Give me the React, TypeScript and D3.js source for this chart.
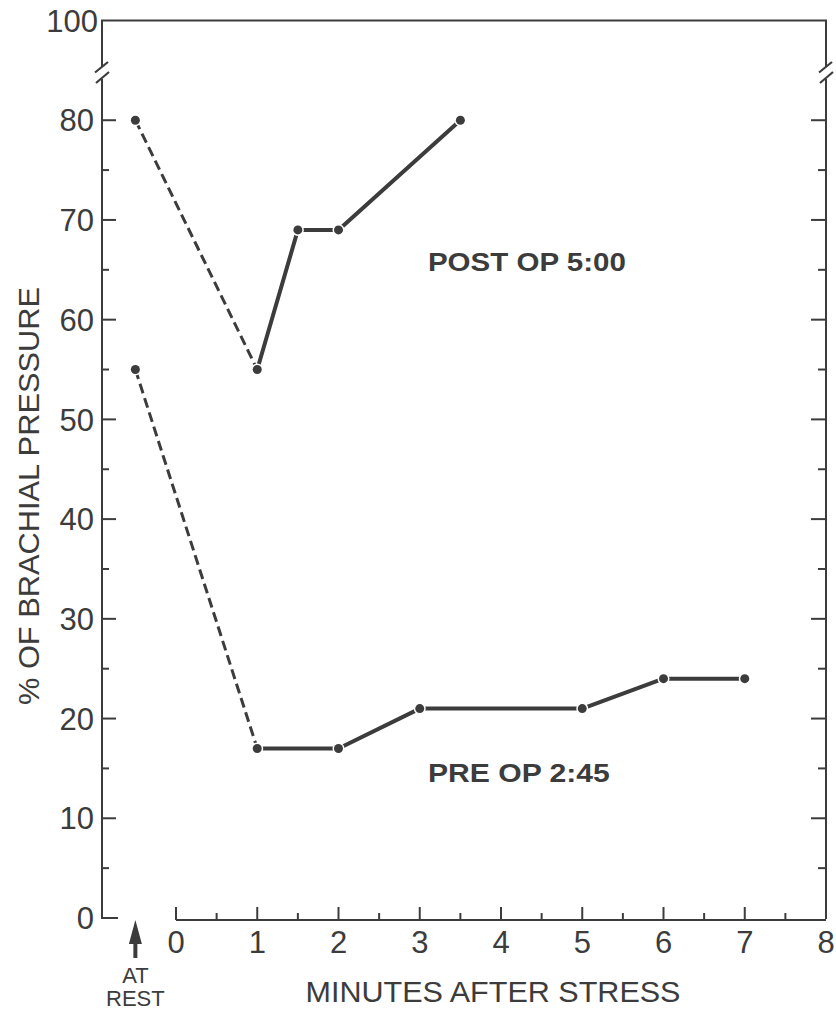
import React from 'react';
import * as d3 from 'd3';

// ---- data ----
const REST = -0.5; // "AT REST" position on the minutes scale
const xTicks = [0, 1, 2, 3, 4, 5, 6, 7, 8];
const xMinorTicks = [0.5, 1.5, 2.5, 3.5, 4.5, 5.5, 6.5, 7.5];
const yTicks = [0, 10, 20, 30, 40, 50, 60, 70, 80];
const yMinorTicks = [5, 15, 25, 35, 45, 55, 65, 75];
const topTickValue = 90;
const topTickLabel = '100';
const restLabel = ['AT', 'REST'];

const postOpX = [REST, 1, 1.5, 2, 3.5];
const postOpY = [80, 55, 69, 69, 80];
const preOpX = [REST, 1, 2, 3, 5, 6, 7];
const preOpY = [55, 17, 17, 21, 21, 24, 24];

const series = [
  { name: 'POST OP 5:00', xs: postOpX, ys: postOpY, labelX: 3.1, labelY: 64.9 },
  { name: 'PRE OP 2:45', xs: preOpX, ys: preOpY, labelX: 3.1, labelY: 13.6 },
];

const INK = '#3c3c3c';
const FONT = '"Liberation Sans", Arial, Helvetica, sans-serif';

export default function App() {
  const W = 836, H = 1012;
  const x = d3.scaleLinear().domain([0, 8]).range([176, 826]);
  const y = d3.scaleLinear().domain([0, 90]).range([918, 20.5]);
  const axL = 102;
  const axR = x(8);
  const axB = y(0);
  const breakY = 73;

  const line = d3.line<[number, number]>().x(d => x(d[0])).y(d => y(d[1]));

  const breakMarks = (cx: number) => (
    <g>
      <line x1={cx} x2={cx} y1={breakY - 6} y2={breakY + 6} stroke="#fff" strokeWidth={6} />
      <line x1={cx - 7} y1={breakY - 0.5} x2={cx + 6} y2={breakY - 11} stroke={INK} strokeWidth={2.2} />
      <line x1={cx - 6} y1={breakY + 10} x2={cx + 7} y2={breakY - 1} stroke={INK} strokeWidth={2.2} />
    </g>
  );

  return (
    <svg width={W} height={H} style={{ position: 'absolute', left: 0, top: 0, background: '#fff' }}
      fontFamily={FONT}>
      <rect width={W} height={H} fill="#fff" />
      {/* frame */}
      <line x1={axL} x2={axL} y1={y(topTickValue)} y2={axB} stroke={INK} strokeWidth={2} />
      <line x1={axL - 1} x2={axR + 1} y1={y(topTickValue)} y2={y(topTickValue)} stroke={INK} strokeWidth={2} />
      <line x1={axR} x2={axR} y1={y(topTickValue)} y2={axB + 1} stroke={INK} strokeWidth={2} />
      {/* left foot */}
      <line x1={axL - 1} x2={118} y1={axB} y2={axB} stroke={INK} strokeWidth={2} />
      {/* x axis */}
      <line x1={x(0)} x2={axR} y1={axB + 2} y2={axB + 2} stroke={INK} strokeWidth={2} />
      {breakMarks(axL)}
      {breakMarks(axR)}

      {/* y ticks */}
      {yTicks.filter(t => t > 0).map(t => (
        <g key={'yt' + t}>
          <line x1={axL} x2={axL + 14} y1={y(t)} y2={y(t)} stroke={INK} strokeWidth={2} />
          <line x1={axR} x2={axR - 15} y1={y(t)} y2={y(t)} stroke={INK} strokeWidth={2} />
        </g>
      ))}
      {yMinorTicks.map(t => (
        <g key={'ym' + t}>
          <line x1={axL} x2={axL + 7} y1={y(t)} y2={y(t)} stroke={INK} strokeWidth={2} />
          <line x1={axR} x2={axR - 8} y1={y(t)} y2={y(t)} stroke={INK} strokeWidth={2} />
        </g>
      ))}
      {yTicks.map(t => (
        <text key={'yl' + t} x={94} y={y(t)} dy="0.36em" textAnchor="end" fontSize={31} fill={INK}>{t}</text>
      ))}
      <text x={98} y={y(topTickValue)} dy="0.36em" textAnchor="end" fontSize={31} fill={INK}>{topTickLabel}</text>

      {/* x ticks */}
      {xTicks.filter(t => t < 8).map(t => (
        <line key={'xt' + t} x1={x(t)} x2={x(t)} y1={axB + 2} y2={axB - 11} stroke={INK} strokeWidth={2} />
      ))}
      {xMinorTicks.map(t => (
        <line key={'xm' + t} x1={x(t)} x2={x(t)} y1={axB + 2} y2={axB - 5} stroke={INK} strokeWidth={2} />
      ))}
      {xTicks.map(t => (
        <text key={'xl' + t} x={x(t)} y={953} textAnchor="middle" fontSize={31} fill={INK}>{t}</text>
      ))}

      {/* AT REST arrow */}
      <path d={`M${x(REST)},${axB + 2} L${x(REST) + 6.5},${axB + 26} L${x(REST) - 6.5},${axB + 26} Z`} fill={INK} />
      <line x1={x(REST)} x2={x(REST)} y1={axB + 20} y2={axB + 40} stroke={INK} strokeWidth={4} />
      <text x={x(REST)} y={983} textAnchor="middle" fontSize={22} fill={INK}>{restLabel[0]}</text>
      <text x={x(REST)} y={1006} textAnchor="middle" fontSize={22} fill={INK}>{restLabel[1]}</text>

      {/* axis titles */}
      <text x={493} y={1002} textAnchor="middle" fontSize={29} fill={INK} textLength={375} lengthAdjust="spacingAndGlyphs">MINUTES AFTER STRESS</text>
      <text transform={`translate(39,496) rotate(-90)`} textAnchor="middle" fontSize={29} fill={INK} textLength={418} lengthAdjust="spacingAndGlyphs">% OF BRACHIAL PRESSURE</text>

      {/* series */}
      {series.map(s => {
        const pts: [number, number][] = s.xs.map((v, i) => [v, s.ys[i]]);
        return (
          <g key={s.name}>
            <path d={line(pts.slice(0, 2)) || ''} fill="none" stroke={INK} strokeWidth={3} strokeDasharray="10,5" />
            <path d={line(pts.slice(1)) || ''} fill="none" stroke={INK} strokeWidth={4} strokeLinejoin="round" />
            {pts.map((p, i) => (
              <circle key={i} cx={x(p[0])} cy={y(p[1])} r={4.5} fill={INK} stroke="#fff" strokeWidth={3} paintOrder="stroke" />
            ))}
            <text x={x(s.labelX)} y={y(s.labelY)} fontSize={25} fontWeight="bold" fill={INK}
              textLength={s.name === 'POST OP 5:00' ? 198 : 182} lengthAdjust="spacingAndGlyphs">{s.name}</text>
          </g>
        );
      })}
    </svg>
  );
}
